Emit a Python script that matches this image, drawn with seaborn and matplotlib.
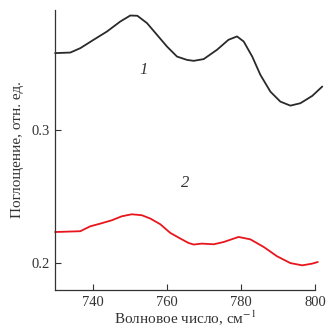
import numpy as np
import pandas as pd
import matplotlib
matplotlib.use('Agg')
import matplotlib.pyplot as plt
import seaborn as sns

# curve 1 (black)
wn1 = [729.8, 733.9, 736.6, 740.2, 743.8, 747.4, 750.1, 752.0, 754.6, 757.3, 760.0, 762.7,
       765.4, 767.2, 769.9, 773.5, 776.6, 778.9, 780.7, 783.0, 785.2, 787.9, 790.6, 793.3,
       796.0, 799.2, 801.9]
abs1 = [0.3577, 0.3581, 0.3614, 0.3677, 0.3739, 0.3814, 0.3859, 0.3857, 0.3802, 0.3714, 0.3626, 0.3551,
        0.3526, 0.3519, 0.3532, 0.3602, 0.3677, 0.3702, 0.3664, 0.3551, 0.3414, 0.3288, 0.3213, 0.3183,
        0.3201, 0.3256, 0.3326]

# curve 2 (red)
wn2 = [729.8, 736.6, 739.3, 742.0, 745.1, 747.8, 750.5, 753.2, 755.5, 758.2, 760.9, 763.6,
       765.8, 767.2, 769.4, 772.6, 775.3, 779.3, 782.5, 786.1, 789.7, 793.3, 796.5, 799.2, 800.7]
abs2 = [0.2235, 0.2241, 0.2278, 0.2298, 0.2323, 0.2353, 0.2368, 0.2361, 0.2336, 0.2293, 0.2228, 0.2186,
        0.2153, 0.2141, 0.2148, 0.2143, 0.2160, 0.2198, 0.2180, 0.2123, 0.2053, 0.2002, 0.1985, 0.1998, 0.2010]

df1 = pd.DataFrame({'x': wn1, 'y': abs1})
df2 = pd.DataFrame({'x': wn2, 'y': abs2})

sns.set_style('ticks')
plt.rcParams['font.family'] = ['Liberation Serif', 'DejaVu Serif']
plt.rcParams['mathtext.fontset'] = 'stix'

fig = plt.figure(figsize=(3.28, 3.29), dpi=100)
ax = fig.add_axes([0.168, 0.1185, 0.793, 0.851])

sns.lineplot(data=df1, x='x', y='y', ax=ax, color='#2a2a2a', lw=1.3, clip_on=False)
sns.lineplot(data=df2, x='x', y='y', ax=ax, color='#e8161c', lw=1.3, clip_on=False)

ax.set_xlim(729.8, 800)
ax.set_ylim(0.18, 0.39)
ax.set_xticks([740, 760, 780, 800])
ax.set_yticks([0.2, 0.3])
ax.set_yticklabels(['0.2', '0.3'])
ax.tick_params(direction='in', length=4, width=0.8, labelsize=10.5, colors='#333333')
ax.tick_params(axis='x', pad=4)
for s in ['top', 'right']:
    ax.spines[s].set_visible(False)
for s in ['left', 'bottom']:
    ax.spines[s].set_color('#333333')
    ax.spines[s].set_linewidth(0.9)

ax.set_xlabel('Волновое число, см$^{-1}$', fontsize=11, color='#333333', labelpad=0)
ax.set_ylabel('Поглощение, отн. ед.', fontsize=11, color='#333333', labelpad=6)

ax.text(753.6, 0.345, '1', fontsize=12, style='italic', color='#333333', ha='center', va='center')
ax.text(764.9, 0.260, '2', fontsize=12, style='italic', color='#333333', ha='center', va='center')

fig.savefig('out.png', dpi=100)
